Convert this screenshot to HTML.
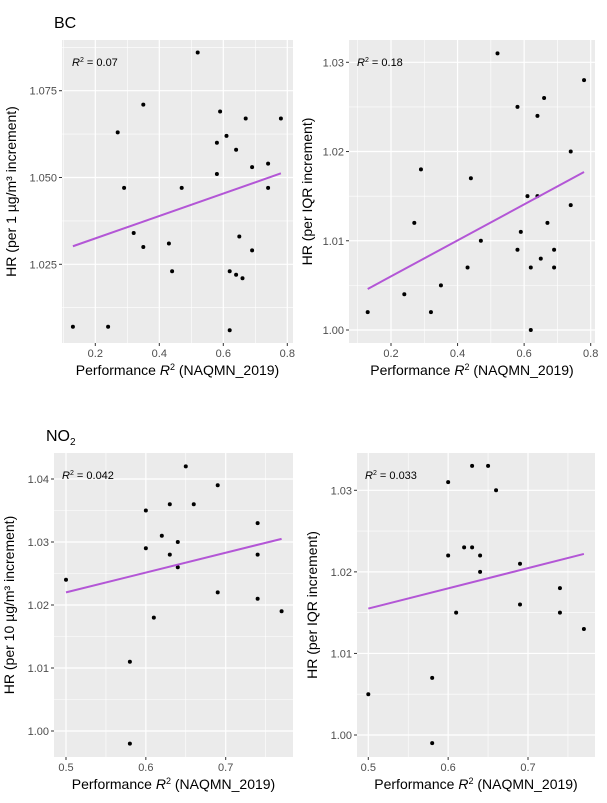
<!DOCTYPE html>
<html><head><meta charset="utf-8"><style>
body{margin:0;background:#fff;font-family:"Liberation Sans",Arial,sans-serif}
svg{display:block}
</style></head><body>
<svg id="chart" width="607" height="803" viewBox="0 0 607 803" font-family="Liberation Sans, Arial, sans-serif"></svg>
<script>
// ---- data ----
const bcHrX = [0.13,0.24,0.27,0.29,0.32,0.35,0.35,0.43,0.44,0.47,0.52,0.58,0.58,0.59,0.61,0.62,0.62,0.64,0.64,0.65,0.66,0.67,0.69,0.69,0.74,0.74,0.78];
const bcHrY = [1.007,1.007,1.063,1.047,1.034,1.071,1.030,1.031,1.023,1.047,1.086,1.060,1.051,1.069,1.062,1.023,1.006,1.058,1.022,1.033,1.021,1.067,1.053,1.029,1.054,1.047,1.067];
const bcIqrX = [0.13,0.24,0.27,0.29,0.32,0.35,0.43,0.44,0.47,0.52,0.58,0.58,0.59,0.61,0.62,0.62,0.64,0.64,0.65,0.66,0.67,0.69,0.69,0.74,0.74,0.78];
const bcIqrY = [1.002,1.004,1.012,1.018,1.002,1.005,1.007,1.017,1.010,1.031,1.025,1.009,1.011,1.015,1.007,1.000,1.024,1.015,1.008,1.026,1.012,1.009,1.007,1.020,1.014,1.028];
const no2HrX = [0.50,0.58,0.58,0.60,0.60,0.61,0.62,0.63,0.63,0.64,0.64,0.65,0.66,0.69,0.69,0.74,0.74,0.74,0.77];
const no2HrY = [1.024,1.011,0.998,1.035,1.029,1.018,1.031,1.036,1.028,1.030,1.026,1.042,1.036,1.039,1.022,1.033,1.028,1.021,1.019];
const no2IqrX = [0.50,0.58,0.58,0.60,0.60,0.61,0.62,0.63,0.63,0.64,0.64,0.65,0.66,0.69,0.69,0.74,0.74,0.77];
const no2IqrY = [1.005,1.007,0.999,1.031,1.022,1.015,1.023,1.033,1.023,1.022,1.020,1.033,1.030,1.021,1.016,1.018,1.015,1.013];
const fitBc1 = [1.0302,1.0512];
const fitBc2 = [1.0046,1.0177];
const fitNo1 = [1.0220,1.0305];
const fitNo2 = [1.0155,1.0222];
const xTicksBc = [0.2,0.4,0.6,0.8];
const xTicksNo = [0.5,0.6,0.7];
const yTicks1 = [1.025,1.050,1.075];
const yTicks2 = [1.00,1.01,1.02,1.03];
const yTicks3 = [1.00,1.01,1.02,1.03,1.04];
const yTicks4 = [1.00,1.01,1.02,1.03];

const NS="http://www.w3.org/2000/svg";
const svg=document.getElementById('chart');
function el(tag,attrs,parent,text){const e=document.createElementNS(NS,tag);for(const k in attrs)e.setAttribute(k,attrs[k]);if(text!==undefined)e.textContent=text;(parent||svg).appendChild(e);return e;}

const panels=[
 {name:'bc-per-ug',L:62,R:293,T:40,B:343,x0:0.2,px0:95.3,x1:0.8,px1:287.3,y0:1.025,py0:264.3,y1:1.075,py1:90.7,xs:bcHrX,ys:bcHrY,fit:fitBc1,xt:xTicksBc,yt:yTicks1,yd:3,xd:1,ytitle:'HR (per 1 µg/m³ increment)',r2:'0.07',title:'BC',yoff:46},
 {name:'bc-per-iqr',L:349,R:595,T:40,B:343,x0:0.2,px0:391,x1:0.8,px1:590.7,y0:1.00,py0:330,y1:1.03,py1:62.3,xs:bcIqrX,ys:bcIqrY,fit:fitBc2,xt:xTicksBc,yt:yTicks2,yd:2,xd:1,ytitle:'HR (per IQR increment)',r2:'0.18',yoff:37},
 {name:'no2-per-10ug',L:54,R:293,T:453,B:757,x0:0.5,px0:66,x1:0.7,px1:225.7,y0:1.00,py0:731,y1:1.04,py1:479,xs:no2HrX,ys:no2HrY,fit:fitNo1,xt:xTicksNo,yt:yTicks3,yd:2,xd:1,ytitle:'HR (per 10 µg/m³ increment)',r2:'0.042',title:'NO2',yoff:40},
 {name:'no2-per-iqr',L:357,R:595,T:453,B:757,x0:0.5,px0:368.3,x1:0.7,px1:528,y0:1.00,py0:735,y1:1.03,py1:490.3,xs:no2IqrX,ys:no2IqrY,fit:fitNo2,xt:xTicksNo,yt:yTicks4,yd:2,xd:1,ytitle:'HR (per IQR increment)',r2:'0.033',yoff:40}
];

panels.forEach(p=>{
 const sx=v=>p.px0+(v-p.x0)*(p.px1-p.px0)/(p.x1-p.x0);
 const sy=v=>p.py0+(v-p.y0)*(p.py1-p.py0)/(p.y1-p.y0);
 const g=el('g',{});
 
 
 const bg=el('rect',{x:p.L,y:p.T,width:p.R-p.L,height:p.B-p.T,fill:'#ebebeb'},g);
 
 
 const xstep=p.xt[1]-p.xt[0], ystep=p.yt[1]-p.yt[0];
 for(let v=p.xt[0]-xstep/2; v<=p.xt[p.xt.length-1]+xstep; v+=xstep){const X=sx(v);if(X>p.L&&X<p.R)el('line',{x1:X,x2:X,y1:p.T,y2:p.B,stroke:'#fff','stroke-width':0.6},g);}
 for(let v=p.yt[0]-ystep/2; v<=p.yt[p.yt.length-1]+ystep; v+=ystep){const Y=sy(v);if(Y>p.T&&Y<p.B)el('line',{x1:p.L,x2:p.R,y1:Y,y2:Y,stroke:'#fff','stroke-width':0.6},g);}
 p.xt.forEach(v=>{const X=sx(v);
  el('line',{x1:X,x2:X,y1:p.T,y2:p.B,stroke:'#fff','stroke-width':1.2},g);
  el('line',{x1:X,x2:X,y1:p.B,y2:p.B+3,stroke:'#333','stroke-width':1},g);
  const t=el('text',{x:X,y:p.B+14,'font-size':11,fill:'#4d4d4d','text-anchor':'middle'},g,v.toFixed(p.xd));
  
  
 });
 p.yt.forEach(v=>{const Y=sy(v);
  el('line',{x1:p.L,x2:p.R,y1:Y,y2:Y,stroke:'#fff','stroke-width':1.2},g);
  el('line',{x1:p.L-3,x2:p.L,y1:Y,y2:Y,stroke:'#333','stroke-width':1},g);
  const t=el('text',{x:p.L-5,y:Y+4,'font-size':11,fill:'#4d4d4d','text-anchor':'end'},g,v.toFixed(p.yd));
  
  
 });
 p.xs.forEach((x,i)=>{
  const c=el('circle',{cx:sx(x),cy:sy(p.ys[i]),r:2,fill:'#000'},g);
  
  
 });
 const xa=p.xs[0], xb=p.xs[p.xs.length-1];
 const ln=el('line',{x1:sx(xa),y1:sy(p.fit[0]),x2:sx(xb),y2:sy(p.fit[1]),stroke:'#b356d6','stroke-width':2},g);
 
 
 const r=el('text',{x:p.L+(p.name==='bc-per-ug'?10:8),y:p.T+26,'font-size':11,fill:'#000'},g);
 
 
 el('tspan',{'font-style':'italic'},r,'R');
 el('tspan',{'font-size':7,dy:-4},r,'2');
 el('tspan',{dy:4},r,' = '+p.r2);
 const xt=el('text',{x:(p.L+p.R)/2,y:p.B+32,'font-size':14,fill:'#000','text-anchor':'middle'},g);
 
 
 el('tspan',{},xt,'Performance ');
 el('tspan',{'font-style':'italic'},xt,'R');
 el('tspan',{'font-size':9,dy:-5},xt,'2');
 el('tspan',{dy:5},xt,' (NAQMN_2019)');
 const ycx=p.L-p.yoff, ycy=(p.T+p.B)/2;
 const yt=el('text',{x:ycx,y:ycy,'font-size':14,fill:'#000','text-anchor':'middle',transform:`rotate(-90 ${ycx} ${ycy})`},g,p.ytitle);
 
 
 if(p.title){
  const tt=el('text',{x:p.L-8,y:p.T-12,'font-size':16,fill:'#000'},g);
  
  
  if(p.title==='NO2'){el('tspan',{},tt,'NO');el('tspan',{'font-size':10,dy:4},tt,'2');}
  else tt.textContent=p.title;
 }
});
</script>
</body></html>
